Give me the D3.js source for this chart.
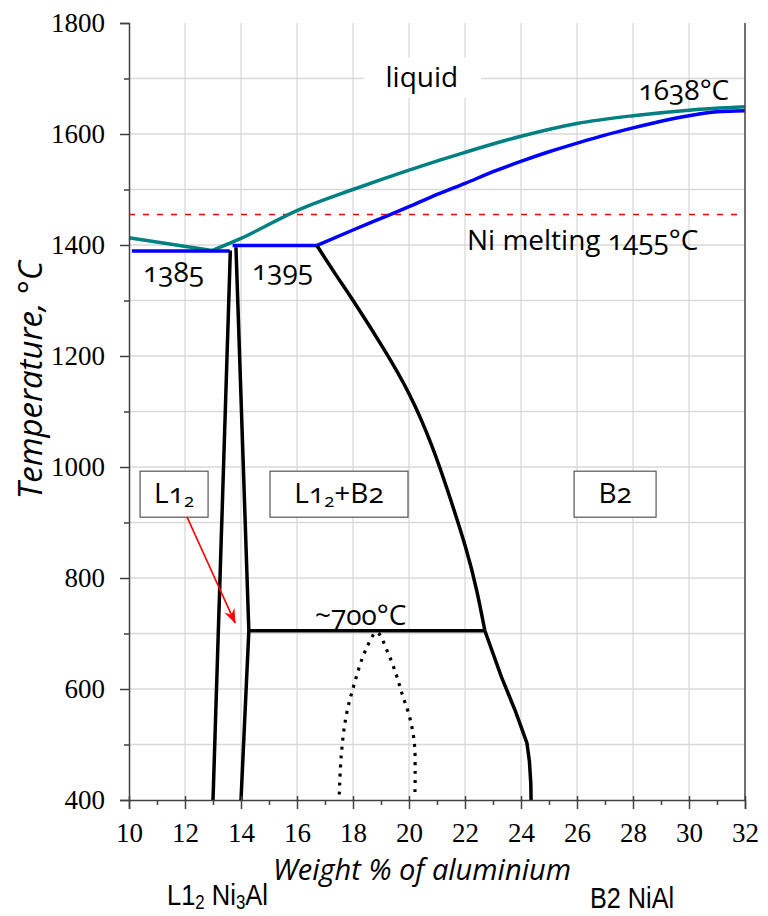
<!DOCTYPE html>
<html>
<head>
<meta charset="utf-8">
<script src="https://cdn.jsdelivr.net/npm/d3@7"></script>
<style>
  body { margin: 0; background: #fff; }
  .lab { font-family: "Open Sans", sans-serif; font-feature-settings: "onum"; fill: #000; }
</style>
</head>
<body>
<div id="chart"></div>
<script>
// Ni-Al phase diagram, wt% Al vs temperature (°C)
const liquidusLow = [[10, 1413], [12.96, 1390]];
const liquidus = [[12.96, 1390], [14, 1412], [16, 1462], [18, 1500], [20, 1535], [21.1, 1553], [22, 1567],
                  [24, 1596], [26, 1619], [28, 1633], [30, 1643], [32, 1649]];
const solidusEut = [[10.1, 1389], [13.6, 1389]];
const solidusPer = [[13.7, 1399], [16.71, 1399]];
const solidus = [[16.71, 1399], [18, 1427], [19, 1448], [20, 1469], [21.1, 1493], [22, 1511], [23, 1532],
                 [24.07, 1552], [25, 1568], [26.1, 1585], [27, 1598], [28, 1611], [29, 1623], [30, 1633],
                 [31, 1640], [32, 1642]];

const l12Left = [[13.0, 400], [13.62, 1390]];
const l12Right = [[13.82, 1396], [14.28, 705], [14.0, 400]];
const eutectoid = [[14.28, 705], [22.71, 705]];
const b2Boundary = [[16.71, 1399], [17.4, 1345], [18.0, 1301], [19.07, 1216], [20.04, 1133], [20.86, 1036],
                    [21.46, 946], [22.07, 850], [22.43, 778], [22.71, 705]];
const b2Lower = [[22.71, 705], [23.3, 622], [23.8, 560], [24.21, 503], [24.3, 470], [24.35, 430], [24.36, 400]];
const ordering = [[17.51, 410], [17.58, 480], [17.75, 550], [18.05, 610], [18.45, 670], [18.85, 702],
                  [19.25, 665], [19.55, 625], [19.76, 590], [20.02, 550], [20.19, 503], [20.22, 450], [20.21, 410]];

const niMelting = 1455;

// annotations: [text, wt%, °C]  ("_x" = subscript x)
const boxLabels = [["L1_2", 11.61, 951], ["L1_2+B2", 17.5, 951], ["B2", 27.36, 951]];
const plainLabels = [["liquid", 20.46, 1685, "middle"], ["1638°C", 28.2, 1661, "start"],
                     ["Ni melting 1455°C", 22.07, 1391, "start"], ["1385", 10.5, 1333, "start"],
                     ["1395", 14.39, 1337, "start"], ["~700°C", 16.64, 716, "start"]];
const arrowFrom = [12.07, 910];
const arrowTo = [13.79, 719];

const xMajor = [10, 12, 14, 16, 18, 20, 22, 24, 26, 28, 30, 32];
const xMinor = [11, 13, 15, 17, 19, 21, 23, 25, 27, 29, 31];
const yMajor = [400, 600, 800, 1000, 1200, 1400, 1600, 1800];
const yMinor = [500, 700, 900, 1100, 1300, 1500, 1700];

const width = 768, height = 916;
const margin = { top: 23, right: 23, bottom: 116, left: 129 };
const serif = "'Liberation Serif', 'Times New Roman', 'DejaVu Serif', serif";
const narrow = "'Liberation Sans', Arial, sans-serif";

const x = d3.scaleLinear().domain([10, 32]).range([margin.left, width - margin.right]);
const y = d3.scaleLinear().domain([400, 1800]).range([height - margin.bottom, margin.top]);

const svg = d3.select("#chart").append("svg")
    .attr("width", width)
    .attr("height", height);

svg.append("defs").append("marker")
    .attr("id", "arr")
    .attr("viewBox", "-14 -6 16 12")
    .attr("markerWidth", 16)
    .attr("markerHeight", 12)
    .attr("markerUnits", "userSpaceOnUse")
    .attr("orient", "auto")
    .append("path")
    .attr("d", "M1,0 L-14,-5.5 L-9,0 L-14,5.5 Z")
    .attr("fill", "#ff0000");

// grid
const grid = svg.append("g").attr("stroke", "#d9d9d9").attr("stroke-width", 1.3);
grid.selectAll(".gx").data(xMajor.filter(d => d > 10 && d < 32)).join("line")
    .attr("x1", d => x(d)).attr("x2", d => x(d))
    .attr("y1", y(400)).attr("y2", y(1800));
grid.selectAll(".gy").data(yMajor.concat(yMinor).filter(d => d > 400 && d < 1800)).join("line")
    .attr("x1", x(10)).attr("x2", x(32))
    .attr("y1", d => y(d)).attr("y2", d => y(d));

const labG = svg.append("g");

const line = d3.line().x(d => x(d[0])).y(d => y(d[1]));
const smooth = d3.line().x(d => x(d[0])).y(d => y(d[1])).curve(d3.curveMonotoneX);
const basis = d3.line().x(d => x(d[0])).y(d => y(d[1])).curve(d3.curveBasis);
const round = d3.line().x(d => x(d[0])).y(d => y(d[1])).curve(d3.curveCatmullRom.alpha(0.5));

const curves = svg.append("g").attr("fill", "none").attr("stroke-linejoin", "round");
const lw = 3.5;

curves.append("line")
    .attr("x1", x(10)).attr("x2", x(31.8))
    .attr("y1", y(niMelting)).attr("y2", y(niMelting))
    .attr("stroke", "#ff0000").attr("stroke-width", 1.6).attr("stroke-dasharray", "6,8");

curves.append("path").attr("d", line(liquidusLow)).attr("stroke", "#008080").attr("stroke-width", lw);
curves.append("path").attr("d", smooth(liquidus)).attr("stroke", "#008080").attr("stroke-width", lw);
curves.append("path").attr("d", line(solidusEut)).attr("stroke", "#0000ff").attr("stroke-width", lw);
curves.append("path").attr("d", line(solidusPer)).attr("stroke", "#0000ff").attr("stroke-width", lw);
curves.append("path").attr("d", smooth(solidus)).attr("stroke", "#0000ff").attr("stroke-width", lw);

[l12Left, l12Right, eutectoid, b2Lower].forEach(p =>
    curves.append("path").attr("d", line(p)).attr("stroke", "#000").attr("stroke-width", lw));
curves.append("path").attr("d", basis(b2Boundary)).attr("stroke", "#000").attr("stroke-width", lw);
curves.append("path").attr("d", round(ordering)).attr("stroke", "#000").attr("stroke-width", 3.2)
    .attr("stroke-dasharray", "3,6");

// axes
const axG = svg.append("g").attr("color", "#404040");
const xa = axG.append("g").attr("transform", `translate(0,${y(400)})`)
    .call(d3.axisBottom(x).tickValues(xMajor).tickSize(9).tickPadding(10).tickFormat(d3.format("d")));
axG.append("g").attr("transform", `translate(0,${y(400)})`)
    .call(d3.axisBottom(x).tickValues(xMinor).tickSize(5).tickFormat(""))
    .select(".domain").remove();
xa.selectAll(".tick line").attr("y1", -4);
axG.append("g").attr("transform", `translate(${x(10)},0)`)
    .call(d3.axisLeft(y).tickValues(yMajor).tickSize(9).tickPadding(15).tickFormat(d3.format("d")));
axG.append("g").attr("transform", `translate(${x(10)},0)`)
    .call(d3.axisLeft(y).tickValues(yMinor).tickSize(5).tickFormat(""))
    .select(".domain").remove();
axG.selectAll("g").attr("font-family", serif).attr("font-size", 27);
axG.selectAll(".domain").attr("stroke-width", 1.5);
axG.selectAll(".tick line").attr("stroke-width", 1.5);
axG.selectAll(".tick text")
    .attr("fill", "#000")
    .style("font-family", serif)
    .style("font-size", "27px");
xa.selectAll(".tick text").attr("dy", "0.85em");
axG.append("line")
    .attr("x1", x(32)).attr("x2", x(32)).attr("y1", y(400)).attr("y2", y(1800))
    .attr("stroke", "#404040").attr("stroke-width", 1.5);

function addText(sel, str) {
    // "_x" makes a subscript x
    let shift = 0;
    str.split(/(_.)/).filter(s => s).forEach(s => {
        if (s[0] === "_") {
            sel.append("tspan").attr("font-size", "0.66em").attr("dy", "0.2em").text(s[1]);
            shift = 1;
        } else {
            const ts = sel.append("tspan").text(s);
            if (shift) ts.attr("dy", "-0.132em");
            shift = 0;
        }
    });
}

// "liquid" sits on a white patch
labG.append("rect")
    .attr("x", x(20.46) - 58).attr("y", y(1685) - 29).attr("width", 117).attr("height", 40)
    .attr("fill", "#fff");

const plain = svg.append("g").attr("class", "lab").attr("font-size", 28);
plainLabels.forEach(([t, wx, ty, anchor]) => {
    plain.append("text").attr("x", x(wx)).attr("y", y(ty)).attr("text-anchor", anchor).text(t);
});

const boxW = { "L1_2": 68, "L1_2+B2": 138, "B2": 82 };
const boxes = svg.append("g");
boxLabels.forEach(([t, wx, ty]) => {
    const w = boxW[t], h = 46;
    boxes.append("rect")
        .attr("x", x(wx) - w / 2).attr("y", y(ty) - h / 2).attr("width", w).attr("height", h)
        .attr("fill", "#fff").attr("stroke", "#555").attr("stroke-width", 1.2);
    const tx = boxes.append("text").attr("class", "lab").attr("font-size", 28)
        .attr("x", x(wx)).attr("y", y(ty) + 9).attr("text-anchor", "middle");
    addText(tx, t);
});

svg.append("line")
    .attr("x1", x(arrowFrom[0])).attr("y1", y(arrowFrom[1]))
    .attr("x2", x(arrowTo[0])).attr("y2", y(arrowTo[1]))
    .attr("stroke", "#ff0000").attr("stroke-width", 1.6)
    .attr("marker-end", "url(#arr)");

// axis titles
svg.append("text").attr("class", "lab")
    .attr("x", 422).attr("y", 880).attr("text-anchor", "middle")
    .attr("font-size", 29).attr("font-style", "italic")
    .text("Weight % of aluminium");
svg.append("text").attr("class", "lab")
    .attr("transform", "translate(42,380) rotate(-90)").attr("text-anchor", "middle")
    .attr("font-size", 33).attr("font-style", "italic")
    .text("Temperature, °C");

// phase names under the axis (condensed look)
const ph1 = svg.append("text")
    .attr("transform", "translate(167,905) scale(0.85,1)")
    .attr("font-family", narrow).attr("font-size", 30);
addText(ph1, "L1_2 Ni_3Al");
svg.append("text")
    .attr("transform", "translate(590,908) scale(0.87,1)")
    .attr("font-family", narrow).attr("font-size", 29)
    .text("B2 NiAl");
</script>
</body>
</html>
